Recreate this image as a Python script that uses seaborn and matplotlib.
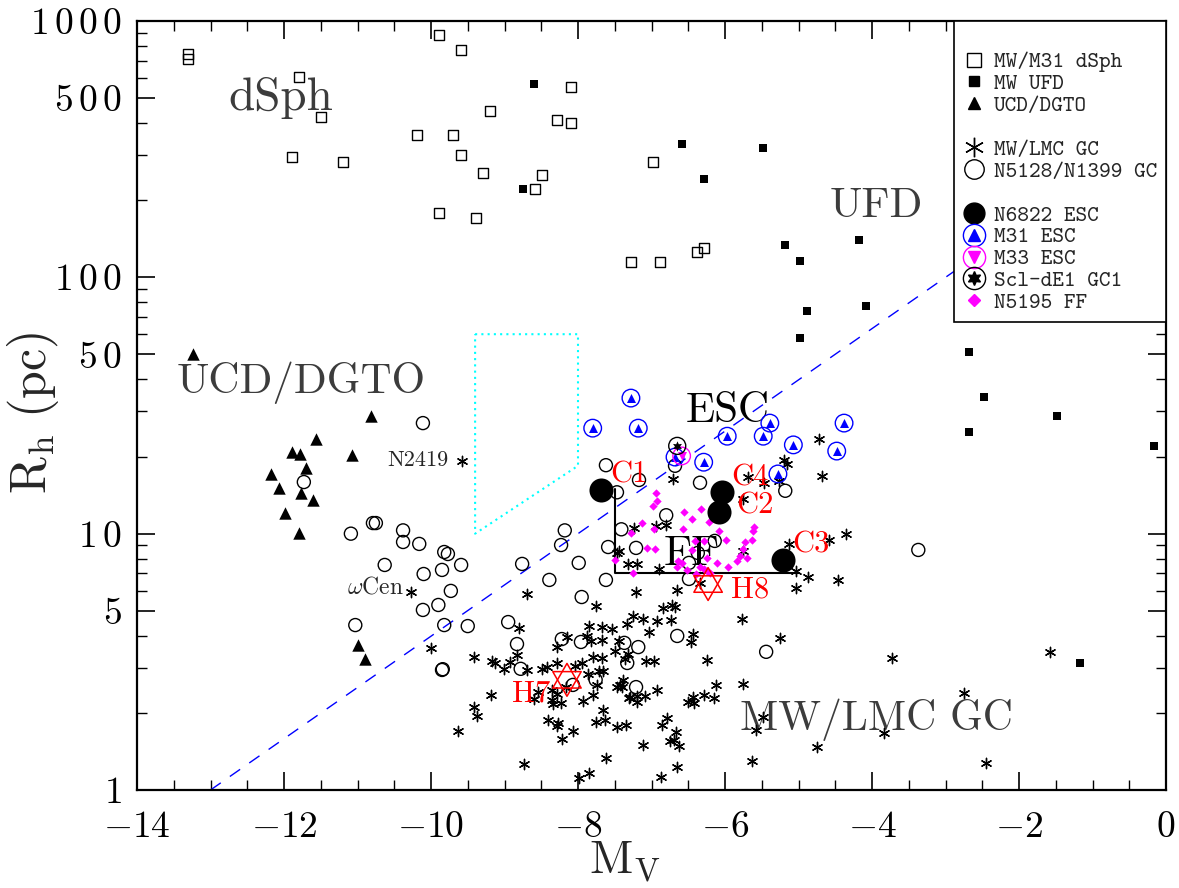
import numpy as np
import pandas as pd
import matplotlib
matplotlib.use("Agg")
import matplotlib.pyplot as plt
import seaborn as sns
from matplotlib.lines import Line2D
from matplotlib.ticker import FixedLocator, FixedFormatter, MultipleLocator

# ---------------------------------------------------------------- data
# Milky Way / M31 dwarf spheroidals (M_V, half-light radius in pc)
dsph_mv = [-13.31, -13.31, -9.89, -9.59, -11.80, -8.10, -9.20, -11.50, -8.29, -8.10,
           -10.19, -9.70, -9.59, -11.89, -11.20, -9.29, -8.49, -8.59, -9.89, -9.39,
           -6.98, -6.38, -6.29, -7.28, -6.88]
dsph_rh = [745, 711, 883, 771, 605, 553, 446, 423, 411, 400,
           359, 359, 300, 295, 282, 256, 251, 221, 178, 171,
           282, 126, 130, 115, 115]

# Milky Way ultra-faint dwarfs
ufd_mv = [-8.60, -8.75, -6.59, -5.48, -6.29, -5.18, -4.18, -4.98, -4.88, -4.08,
          -4.98, -2.68, -2.48, -1.48, -2.68, -0.16, -1.17]
ufd_rh = [568, 221, 331, 320, 242, 134, 140, 116, 74, 77.3,
          58, 51.2, 34.1, 28.8, 24.9, 22.0, 3.13]

# UCDs / DGTOs
ucd_mv = [-13.24, -10.82, -11.56, -11.07, -11.89, -11.78, -11.70, -12.18, -12.07,
          -11.77, -11.61, -11.99, -11.80, -10.99, -10.90]
ucd_rh = [50.2, 28.8, 23.4, 20.3, 20.8, 20.5, 18.0, 17.1, 15.1,
          14.4, 13.5, 12.0, 10.1, 3.68, 3.24]

# NGC 5128 / NGC 1399 globular clusters
egc_mv = [-10.11, -11.73, -10.79, -10.75, -11.09, -10.38, -10.38, -10.16, -9.82, -9.77,
          -10.63, -9.59, -10.10, -9.85, -9.73, -10.11, -9.90, -11.03, -9.82, -9.50,
          -9.85, -9.84, -8.76, -8.18, -8.23, -7.99, -8.39, -7.95, -8.95, -8.83,
          -8.22, -7.96, -8.78, -7.76, -8.07, -7.62, -7.59, -7.62, -7.47, -7.41,
          -7.37, -7.18, -7.33, -7.21, -6.65, -5.44, -3.37, -7.17, -6.34, -6.68,
          -6.80, -7.21, -6.14, -6.37, -6.49, -6.49, -5.18]
egc_rh = [27.0, 15.9, 11.0, 11.0, 10.0, 10.3, 9.28, 9.12, 8.48, 8.33,
          7.55, 7.55, 6.96, 7.22, 5.98, 5.04, 5.27, 4.40, 4.40, 4.36,
          2.94, 2.96, 7.62, 10.3, 9.03, 7.69, 6.60, 5.66, 4.52, 3.71,
          3.88, 3.78, 2.97, 2.69, 2.57, 18.5, 8.87, 6.60, 14.5, 10.4,
          3.75, 3.61, 3.13, 2.52, 3.99, 3.46, 8.64, 16.2, 15.8, 18.4,
          11.8, 8.80, 9.37, 8.41, 7.69, 6.66, 14.7]

# Milky Way / LMC globular clusters
gc_mv = [-9.58, -10.27, -8.69, -7.76, -10.00, -8.80, -9.41, -8.83, -9.17, -9.13,
         -8.93, -9.01, -8.69, -9.18, -9.41, -9.37, -9.63, -8.73, -7.99, -7.85,
         -7.62, -7.25, -7.33, -7.85, -7.67, -7.54, -8.15, -7.88, -7.67, -7.82,
         -7.44, -8.29, -7.50, -7.80, -7.67, -7.36, -7.32, -8.49, -8.42, -8.29,
         -8.04, -7.95, -7.86, -7.71, -7.66, -7.74, -7.47, -7.43, -7.20, -7.31,
         -8.54, -8.60, -8.35, -8.29, -8.35, -8.34, -8.23, -8.16, -7.93, -7.80,
         -7.66, -7.76, -7.63, -7.47, -7.35, -8.41, -8.29, -8.27, -8.07, -8.22,
         -7.32, -7.20, -6.90, -5.03, -4.87, -5.03, -6.34, -7.21, -6.65, -5.77,
         -5.25, -6.84, -6.72, -6.68, -6.73, -6.93, -7.12, -7.03, -6.44, -6.46,
         -6.24, -7.07, -6.97, -7.39, -7.40, -6.93, -7.29, -7.20, -7.09, -6.50,
         -6.44, -6.42, -6.29, -6.15, -6.12, -5.76, -6.79, -6.86, -6.67, -6.75,
         -6.70, -6.63, -7.12, -5.48, -5.58, -4.75, -5.63, -6.65, -6.87, -3.73,
         -2.75, -3.84, -1.58, -2.45, -6.71, -5.69, -5.47, -5.27, -5.20, -5.16,
         -4.72, -4.68, -5.76, -7.24, -6.94, -6.80, -7.47, -7.44, -5.76, -5.13,
         -4.59, -4.35, -4.46]
gc_rh = [19.2, 5.92, 5.82, 5.22, 3.58, 4.29, 3.30, 3.36, 3.19, 3.13,
         3.16, 2.97, 2.94, 2.35, 2.11, 1.94, 1.70, 1.26, 1.11, 1.16,
         1.33, 4.77, 4.44, 4.36, 4.33, 4.25, 3.95, 3.99, 3.85, 3.81,
         3.81, 3.61, 3.49, 3.30, 3.27, 3.24, 3.39, 2.97, 3.02, 3.13,
         3.05, 3.13, 2.84, 2.91, 2.91, 2.57, 2.52, 2.57, 2.33, 2.29,
         2.41, 2.26, 2.46, 2.37, 2.24, 2.17, 2.18, 2.52, 2.22, 2.35,
         2.05, 1.84, 1.88, 1.76, 1.79, 1.88, 1.78, 1.83, 1.70, 1.58,
         7.62, 7.62, 7.28, 7.15, 6.78, 6.14, 6.42, 5.92, 6.03, 4.65,
         3.92, 5.13, 5.27, 5.18, 4.61, 4.56, 4.65, 4.14, 4.06, 3.78,
         3.21, 3.19, 3.19, 2.69, 2.52, 2.46, 2.31, 2.20, 2.33, 2.20,
         2.31, 2.18, 2.35, 2.29, 2.57, 2.59, 1.91, 1.79, 1.68, 1.55,
         1.57, 1.49, 1.50, 1.93, 1.71, 1.47, 1.30, 1.23, 1.12, 3.27,
         2.39, 1.67, 3.46, 1.27, 16.3, 16.6, 15.8, 16.1, 19.4, 18.7,
         23.4, 16.8, 13.7, 10.5, 10.7, 10.8, 8.41, 8.57, 8.56, 9.12,
         9.45, 10.0, 6.60]

# NGC 5195 faint fuzzies
ff_mv = [-6.94, -6.93, -6.98, -6.56, -6.33, -7.13, -7.28, -6.97, -6.45, -6.22,
         -6.08, -5.99, -6.29, -6.41, -7.06, -6.95, -5.61, -5.62, -5.63, -5.73,
         -5.76, -5.80, -5.84, -5.96, -5.70, -6.64, -6.59, -6.65, -6.52, -6.24,
         -6.11, -6.34, -6.29, -6.39, -7.25, -7.50, -6.24, -6.57, -6.45, -6.21]
ff_rh = [14.4, 13.4, 12.8, 12.2, 12.5, 11.0, 10.1, 10.4, 11.4, 11.1,
         10.2, 9.45, 9.37, 9.37, 8.80, 8.72, 10.6, 10.2, 9.45, 9.28,
         8.72, 8.18, 7.83, 7.41, 8.04, 7.83, 7.69, 7.41, 7.22, 8.04,
         7.69, 7.41, 7.28, 6.96, 7.03, 7.89, 7.15, 10.4, 8.64, 7.00]

# M31 extended star clusters
m31_mv = [-7.28, -7.80, -7.18, -5.97, -5.39, -5.48, -4.38, -5.07, -4.48, -6.29, -5.28, -6.68]
m31_rh = [33.8, 25.8, 25.8, 24.0, 27.0, 24.0, 27.0, 22.2, 21.0, 19.0, 17.1, 19.9]

# M33 extended cluster and Scl-dE1 GC1
m33_mv, m33_rh = [-6.59], [20.1]
scl_mv, scl_rh = [-6.65], [22.0]

# NGC 6822 extended clusters C1..C4
n6822_names = ["C1", "C4", "C2", "C3"]
n6822_mv = [-7.69, -6.04, -6.08, -5.21]
n6822_rh = [14.8, 14.5, 12.2, 7.89]

# NGC 6822 Hubble clusters H7, H8
hub_names = ["H7", "H8"]
hub_mv = [-8.15, -6.23]
hub_rh = [2.69, 6.36]

# separating line, FF region and empty region outline
sep_mv = [-13.0, 0.0]
sep_rh = [1.0, 398.0]
ffbox_mv = [-7.5, -7.5, -5.0]
ffbox_rh = [15.0, 7.0, 7.0]
gap_mv = [-9.4, -8.0, -8.0, -9.4, -9.4]
gap_rh = [60.0, 60.0, 18.4, 10.0, 60.0]

y_ticks = [1, 5, 10, 50, 100, 500, 1000]
y_minor = [2, 3, 4, 6, 7, 8, 9, 20, 30, 40, 60, 70, 80, 90,
           200, 300, 400, 600, 700, 800, 900]
x_ticks = [-14, -12, -10, -8, -6, -4, -2, 0]

# ---------------------------------------------------------------- style
sns.set_style("ticks")
plt.rcParams.update({
    "font.family": ["cmr10", "DejaVu Serif"],
    "mathtext.fontset": "cm",
    "axes.unicode_minus": False,
    "axes.linewidth": 1.6,
    "axes.edgecolor": "black",
    "xtick.direction": "in",
    "ytick.direction": "in",
    "xtick.top": True,
    "ytick.right": True,
    "xtick.color": "black",
    "ytick.color": "black",
})

fig = plt.figure(figsize=(11.79, 8.88), dpi=100)
ax = fig.add_axes([137 / 1179, 1 - 790 / 888, 1029 / 1179, 769 / 888])
ax.set_yscale("log")

BLUE, MAG, RED = "#0000ff", "#ff00ff", "#ff0000"


def pts(mv, rh, hollow=False, **kw):
    sns.scatterplot(x=mv, y=rh, ax=ax, legend=False, **kw)
    coll = ax.collections[-1]
    if hollow:
        coll.set_facecolor("none")
    return coll


# guide lines
sns.lineplot(x=sep_mv, y=sep_rh, ax=ax, color=BLUE, lw=1.0,
             linestyle=(0, (9, 8)), sort=False, estimator=None, zorder=1)
sns.lineplot(x=gap_mv, y=gap_rh, ax=ax, color="#00ffff", lw=1.5,
             linestyle=(0, (1, 2)), sort=False, estimator=None, zorder=1)
sns.lineplot(x=ffbox_mv, y=ffbox_rh, ax=ax, color="black", lw=1.5,
             sort=False, estimator=None, zorder=1)

# galaxies
pts(dsph_mv, dsph_rh, hollow=True, marker="s", s=50, edgecolor="black", linewidth=1.0, zorder=3)
pts(ufd_mv, ufd_rh, marker="s", s=26, color="black", edgecolor="black", linewidth=0, zorder=3)
pts(ucd_mv, ucd_rh, marker="^", s=80, color="black", edgecolor="black", linewidth=0, zorder=3)

# clusters
pts(gc_mv, gc_rh, marker=(6, 2, 0), s=55, color="black", linewidth=1.0, zorder=3)
pts(egc_mv, egc_rh, hollow=True, marker="o", s=88, edgecolor="black", linewidth=1.0, zorder=3)
pts(ff_mv, ff_rh, marker="D", s=18, color=MAG, edgecolor=MAG, linewidth=0, zorder=4)

pts(m31_mv, m31_rh, hollow=True, marker="o", s=160, edgecolor=BLUE, linewidth=1.0, zorder=4)
pts(m31_mv, m31_rh, marker="^", s=42, color=BLUE, edgecolor=BLUE, linewidth=0, zorder=4)
pts(m33_mv, m33_rh, hollow=True, marker="o", s=160, edgecolor=MAG, linewidth=1.0, zorder=4)
pts(m33_mv, m33_rh, marker="v", s=42, color=MAG, edgecolor=MAG, linewidth=0, zorder=4)
pts(scl_mv, scl_rh, hollow=True, marker="o", s=150, edgecolor="black", linewidth=1.0, zorder=5)
pts(scl_mv, scl_rh, marker=(6, 1, 0), s=55, color="black", edgecolor="black", linewidth=0, zorder=5)

pts(n6822_mv, n6822_rh, marker="o", s=300, color="black", edgecolor="black", linewidth=0, zorder=5)
pts(hub_mv, hub_rh, hollow=True, marker=(3, 0, 0), s=560, edgecolor=RED, linewidth=1.1, zorder=5)
pts(hub_mv, hub_rh, hollow=True, marker=(3, 0, 180), s=560, edgecolor=RED, linewidth=1.1, zorder=5)

# ---------------------------------------------------------------- annotations
GREY = "#3c3c3c"
big = dict(fontsize=31, va="baseline", ha="left", zorder=2)
ax.text(-12.76, 450, "dSph", color=GREY, **{**big, "fontsize": 34})
ax.text(-4.57, 172, "UFD", color=GREY, **big)
ax.text(-6.54, 27.3, "ESC", color="black", **big)
ax.text(-13.46, 35.4, "UCD/DGTO", color=GREY, **big)
ax.text(-5.80, 1.71, "MW/LMC GC", color=GREY, **{**big, "fontsize": 30})
ax.text(-6.84, 7.55, "FF", color="black", **big)

ax.text(-10.60, 18.4, "N2419", fontsize=16, va="baseline", ha="left")
ax.text(-11.14, 5.82, r"$\omega\mathrm{Cen}$", fontsize=17, va="baseline", ha="left")

lab_pos = {"C1": (-7.56, 15.9), "C4": (-5.92, 15.4), "C2": (-5.85, 12.0),
           "C3": (-5.09, 8.41), "H8": (-5.92, 5.66), "H7": (-8.90, 2.22)}
for name in n6822_names + hub_names:
    lx, ly = lab_pos[name]
    ax.text(lx, ly, name, color=RED, fontsize=22, va="baseline", ha="left", zorder=6)

# ---------------------------------------------------------------- axes
ax.set_xlim(-14, 0)
ax.set_ylim(1, 1000)
ax.xaxis.set_major_locator(FixedLocator(x_ticks))
ax.xaxis.set_minor_locator(MultipleLocator(0.5))
ax.xaxis.set_major_formatter(FixedFormatter(
    [(r"$-%d$" % abs(v)) if v < 0 else r"$%d$" % v for v in x_ticks]))
ax.yaxis.set_major_locator(FixedLocator(y_ticks))
ax.yaxis.set_minor_locator(FixedLocator(y_minor))
ax.yaxis.set_major_formatter(FixedFormatter(
    [r"$" + r"\,".join(str(v)) + r"$" for v in y_ticks]))
ax.yaxis.set_minor_formatter(FixedFormatter([""] * len(y_minor)))

ax.tick_params(which="major", length=13, width=1.2, labelsize=27)
ax.tick_params(which="minor", length=7, width=1.0)
ax.tick_params(axis="x", which="major", pad=15)
ax.tick_params(axis="y", which="major", pad=11)

ax.set_xlabel(r"$\mathrm{M_V}$", fontsize=34)
ax.set_ylabel(r"$\mathrm{R_h\ (pc)}$", fontsize=36)
ax.xaxis.set_label_coords(0.474, -0.064)
ax.yaxis.set_label_coords(-0.074, 0.49)

# ---------------------------------------------------------------- legend
blank = Line2D([], [], ls="none")
handles = [
    blank,
    Line2D([], [], ls="none", marker="s", mfc="none", mec="black", ms=10, mew=1.0),
    Line2D([], [], ls="none", marker="s", mfc="black", mec="black", ms=7),
    Line2D([], [], ls="none", marker="^", mfc="black", mec="black", ms=9),
    blank,
    Line2D([], [], ls="none", marker=(6, 2, 0), color="black", ms=14, mew=1.0),
    Line2D([], [], ls="none", marker="o", mfc="none", mec="black", ms=14, mew=1.0),
    blank,
    Line2D([], [], ls="none", marker="o", mfc="black", mec="black", ms=15),
    (Line2D([], [], ls="none", marker="o", mfc="none", mec=BLUE, ms=16, mew=1.0),
     Line2D([], [], ls="none", marker="^", mfc=BLUE, mec=BLUE, ms=8)),
    (Line2D([], [], ls="none", marker="o", mfc="none", mec=MAG, ms=16, mew=1.0),
     Line2D([], [], ls="none", marker="v", mfc=MAG, mec=MAG, ms=8)),
    (Line2D([], [], ls="none", marker="o", mfc="none", mec="black", ms=16, mew=1.0),
     Line2D([], [], ls="none", marker=(6, 1, 0), mfc="black", mec="black", ms=10)),
    Line2D([], [], ls="none", marker="D", mfc=MAG, mec=MAG, ms=6),
]
labels = ["", "MW/M31 dSph", "MW UFD", "UCD/DGTO", "", "MW/LMC GC", "N5128/N1399 GC",
          "", "N6822 ESC", "M31 ESC", "M33 ESC", "Scl-dE1 GC1", "N5195 FF"]
leg = ax.legend(handles, labels, loc="upper right", bbox_to_anchor=(1, 1),
                borderaxespad=0, frameon=True, fancybox=False, framealpha=1,
                edgecolor="black", prop={"family": "cmtt10", "size": 16},
                handlelength=1.0, handletextpad=0.4, labelspacing=0.06,
                borderpad=0.4)
leg.get_frame().set_linewidth(1.2)
leg.set_zorder(10)

fig.savefig("out.png", dpi=100)
